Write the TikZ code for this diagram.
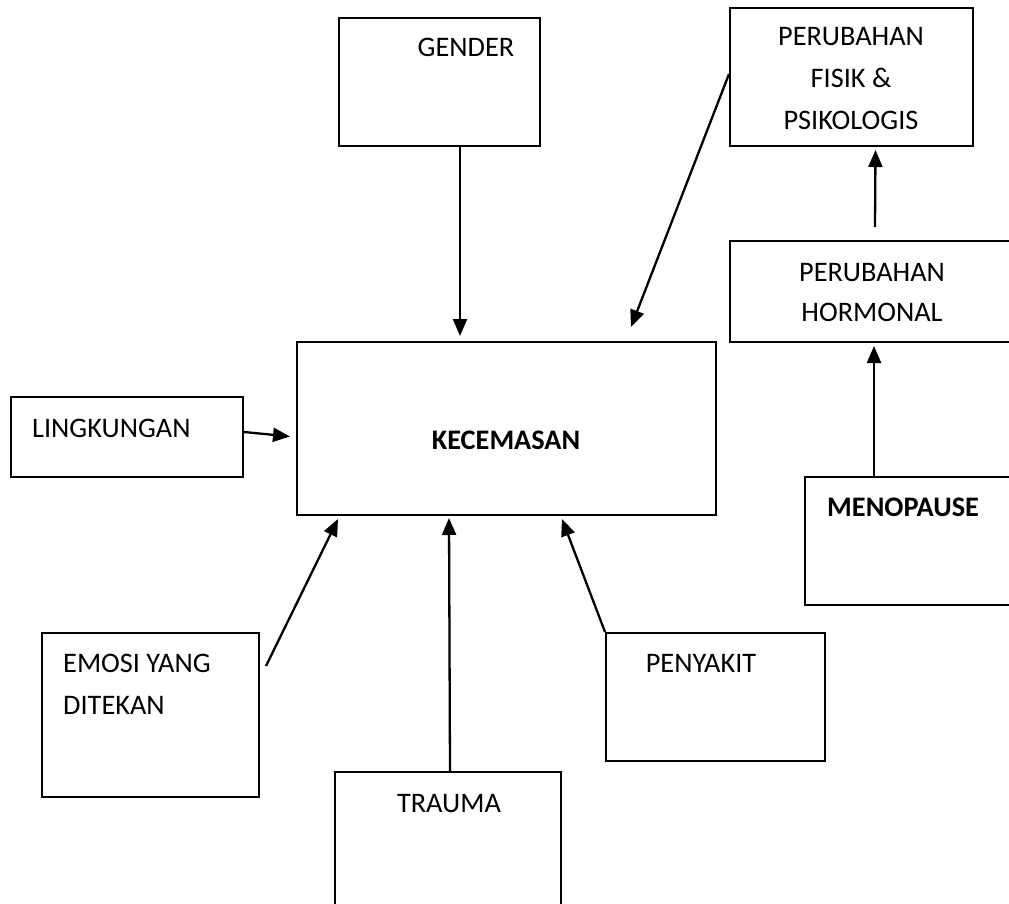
\documentclass[tikz,border=0pt]{standalone}
\usepackage{fontspec}
\setmainfont{Carlito}
\usetikzlibrary{arrows.meta,calc}
\tikzset{
  box/.style={draw=black, line width=2pt, inner sep=0pt, fill=white},
  lbl/.style={inner sep=0pt, font=\fontsize{28.3}{41}\selectfont, anchor=base},
  lblw/.style={lbl, anchor=base west},
  arr/.style={line width=2.3pt, -{Triangle[length=17pt,width=14pt]}}
}
\begin{document}
\begin{tikzpicture}[x=1pt,y=-1pt]
\useasboundingbox[fill=white] (0,0) rectangle (1009,904);
% boxes
\node[box, minimum width=201pt, minimum height=128pt] (gender) at (439.5,82) {};
\node[box, minimum width=243pt, minimum height=138pt] (fisik) at (851.5,77) {};
\node[box, minimum width=290pt, minimum height=101pt] (hormon) at (875,291.5) {};
\node[box, minimum width=419pt, minimum height=173pt] (kec) at (506.5,428.5) {};
\node[box, minimum width=232pt, minimum height=80pt] (ling) at (127,437) {};
\node[box, minimum width=215pt, minimum height=128pt] (meno) at (912.5,541) {};
\node[box, minimum width=217pt, minimum height=164pt] (emosi) at (150.5,715) {};
\node[box, minimum width=219pt, minimum height=128pt] (sakit) at (715.5,697) {};
\node[box, minimum width=226pt, minimum height=143pt] (trauma) at (448,843.5) {};
% texts
\node[lbl] (tgender) at (466,57) {GENDER};
\node[lbl] (tf1) at (851,46) {PERUBAHAN};
\node[lbl] (tf2) at (851,88) {FISIK \&};
\node[lbl] (tf3) at (851,130) {PSIKOLOGIS};
\node[lbl] (th1) at (872,281) {PERUBAHAN};
\node[lbl] (th2) at (872,321) {HORMONAL};
\node[lbl, font=\fontsize{28.3}{41}\selectfont\bfseries] (tkec) at (506,449) {KECEMASAN};
\node[lblw] (tling) at (32,437) {LINGKUNGAN};
\node[lblw, font=\fontsize{28.3}{41}\selectfont\bfseries] (tmeno) at (827,516) {MENOPAUSE};
\node[lblw] (te1) at (63,672) {EMOSI YANG};
\node[lblw] (te2) at (63,714) {DITEKAN};
\node[lbl] (tsakit) at (701,672) {PENYAKIT};
\node[lbl] (ttrauma) at (449,812) {TRAUMA};
% connector end points
\coordinate (gEnd) at ($(gender.south)+(20.5,189)$);
\coordinate (fStart) at ($(fisik.north west)+(0,67)$);
\coordinate (fEnd) at (631,327);
\coordinate (hStart) at ($(hormon.north)+(0,-13)$);
\coordinate (hEnd) at ($(fisik.south)+(24,3)$);
\coordinate (mStart) at ($(meno.north west)+(70,0)$);
\coordinate (mEnd) at ($(hormon.south west)+(145,3)$);
\coordinate (lStart) at ($(ling.east)+(0,-5)$);
\coordinate (lEnd) at ($(kec.west)+(-6,8)$);
\coordinate (eStart) at ($(emosi.north east)+(6,34)$);
\coordinate (eEnd) at ($(kec.south west)+(42,3)$);
\coordinate (tStart) at ($(trauma.north)+(2,0)$);
\coordinate (tEnd) at ($(kec.south west)+(153,2)$);
\coordinate (sStart) at (sakit.north west);
\coordinate (sEnd) at ($(kec.south west)+(266,3)$);
% connectors
\draw[arr] (gender.south -| gEnd) -- (gEnd);
\draw[arr] (fStart) -- (fEnd);
\draw[arr] (hStart) -- (hEnd);
\draw[arr] (mStart) -- (mEnd);
\draw[arr] (lStart) -- (lEnd);
\draw[arr] (eStart) -- (eEnd);
\draw[arr] (tStart) -- (tEnd);
\draw[arr] (sStart) -- (sEnd);
\end{tikzpicture}
\end{document}
